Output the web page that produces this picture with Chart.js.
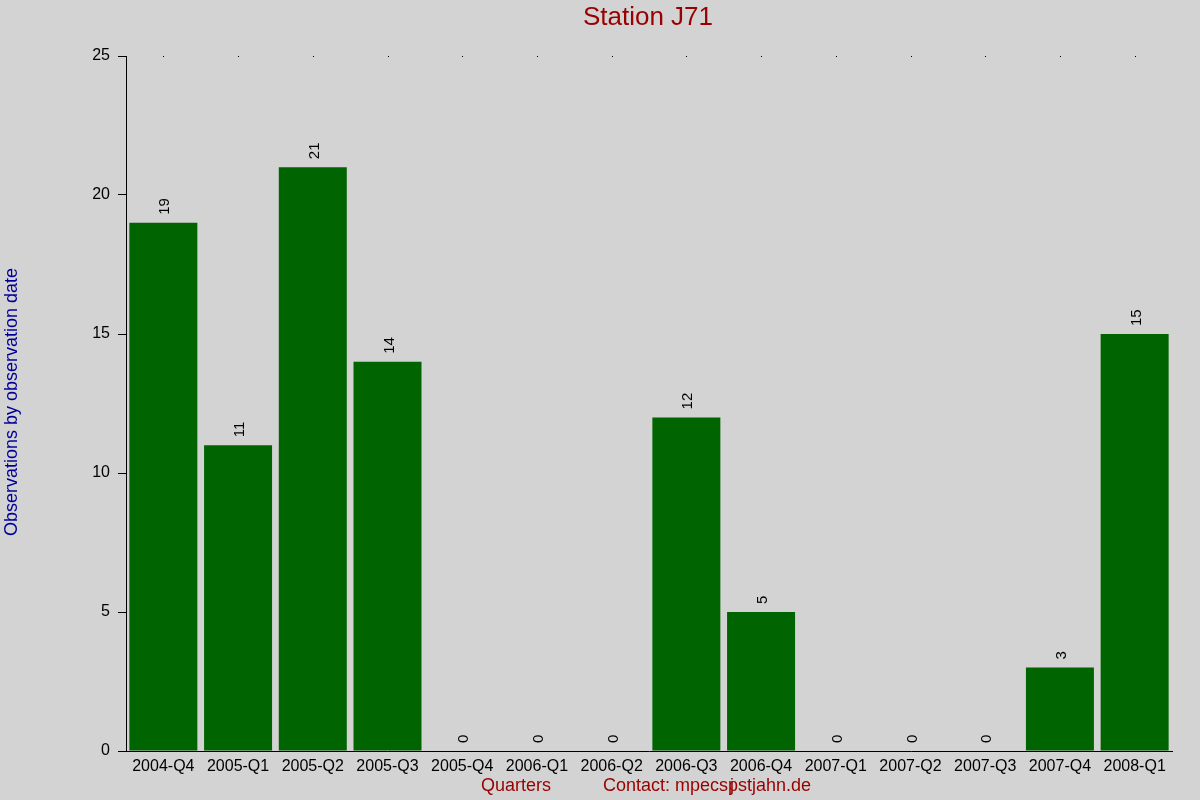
<!DOCTYPE html>
<html lang="en">
<head>
  <meta charset="UTF-8">
  <script src="https://cdn.jsdelivr.net/npm/chart.js@4.4.1/dist/chart.umd.min.js"></script>
  <title>Station J71</title>
  <style>
    html, body { margin: 0; padding: 0; background: #d3d3d3; }
    #wrap { width: 1200px; height: 800px; }
  </style>
</head>
<body>
  <div id="wrap"><canvas id="myChart" width="1200" height="800"></canvas></div>
  <script>
    const quarters = ['2004-Q4', '2005-Q1', '2005-Q2', '2005-Q3', '2005-Q4', '2006-Q1', '2006-Q2',
      '2006-Q3', '2006-Q4', '2007-Q1', '2007-Q2', '2007-Q3', '2007-Q4', '2008-Q1'];
    const observations = [19, 11, 21, 14, 0, 0, 0, 12, 5, 0, 0, 0, 3, 15];
    const yTicks = [0, 5, 10, 15, 20, 25];

    const font = 'Liberation Sans, Arial, sans-serif';

    // titles, value labels and the small dots along the top edge
    const decorations = {
      id: 'decorations',
      beforeDraw(chart) {
        const ctx = chart.ctx;
        ctx.save();
        ctx.fillStyle = '#d3d3d3';
        ctx.fillRect(0, 0, chart.width, chart.height);
        ctx.restore();
      },
      afterDraw(chart) {
        const ctx = chart.ctx;
        const area = chart.chartArea;
        const x = chart.scales.x;
        ctx.save();

        // dots at the top
        ctx.fillStyle = '#000';
        quarters.forEach((q, i) => {
          ctx.fillRect(Math.round(x.getPixelForValue(i)), area.top, 1, 1);
        });

        // value labels
        ctx.font = '15px ' + font;
        ctx.textAlign = 'left';
        ctx.textBaseline = 'middle';
        const meta = chart.getDatasetMeta(0);
        meta.data.forEach((bar, i) => {
          ctx.save();
          ctx.translate(bar.x + 2, bar.y - 8);
          ctx.rotate(-Math.PI / 2);
          ctx.fillText(String(observations[i]), 0, 0);
          ctx.restore();
        });

        // title
        ctx.fillStyle = '#990000';
        ctx.font = '26px ' + font;
        ctx.textAlign = 'center';
        ctx.fillText('Station J71', 648, 18);

        // x titles
        ctx.font = '18px ' + font;
        ctx.textAlign = 'left';
        ctx.fillText('Quarters', 481, 786);
        const start = 'Contact: mpecs';
        ctx.fillText(start + 'pstjahn.de', 603, 786);
        const w = ctx.measureText(start).width;
        ctx.fillText('j', 603 + w + 2, 786);

        // y title
        ctx.fillStyle = '#000099';
        ctx.translate(12, 402);
        ctx.rotate(-Math.PI / 2);
        ctx.textAlign = 'center';
        ctx.fillText('Observations by observation date', 0, 0);
        ctx.restore();
      }
    };

    const ctx = document.getElementById('myChart').getContext('2d');
    const myChart = new Chart(ctx, {
      type: 'bar',
      data: {
        labels: quarters,
        datasets: [{
          label: 'Observations',
          data: observations,
          backgroundColor: '#006400',
          borderWidth: 0,
          barPercentage: 0.91,
          categoryPercentage: 1
        }]
      },
      options: {
        responsive: false,
        animation: false,
        layout: { padding: { left: 0, top: 56, right: 28, bottom: 0 } },
        plugins: {
          legend: { display: false },
          tooltip: { enabled: false }
        },
        scales: {
          x: {
            afterFit(scale) { scale.height = 49; },
            grid: { display: false, drawTicks: false },
            border: { display: true, color: '#000', width: 1 },
            ticks: {
              color: '#000',
              font: { family: font, size: 16 },
              padding: 6,
              maxRotation: 0,
              autoSkip: false
            }
          },
          y: {
            min: 0,
            max: 25,
            afterFit(scale) { scale.width = 126; },
            afterBuildTicks(scale) { scale.ticks = yTicks.map(v => ({ value: v })); },
            grid: { drawOnChartArea: false, color: '#000', tickLength: 8, tickWidth: 1 },
            border: { display: true, color: '#000', width: 1 },
            ticks: {
              color: '#000',
              font: { family: font, size: 16 },
              padding: 8
            }
          }
        }
      },
      plugins: [decorations]
    });
  </script>
</body>
</html>
